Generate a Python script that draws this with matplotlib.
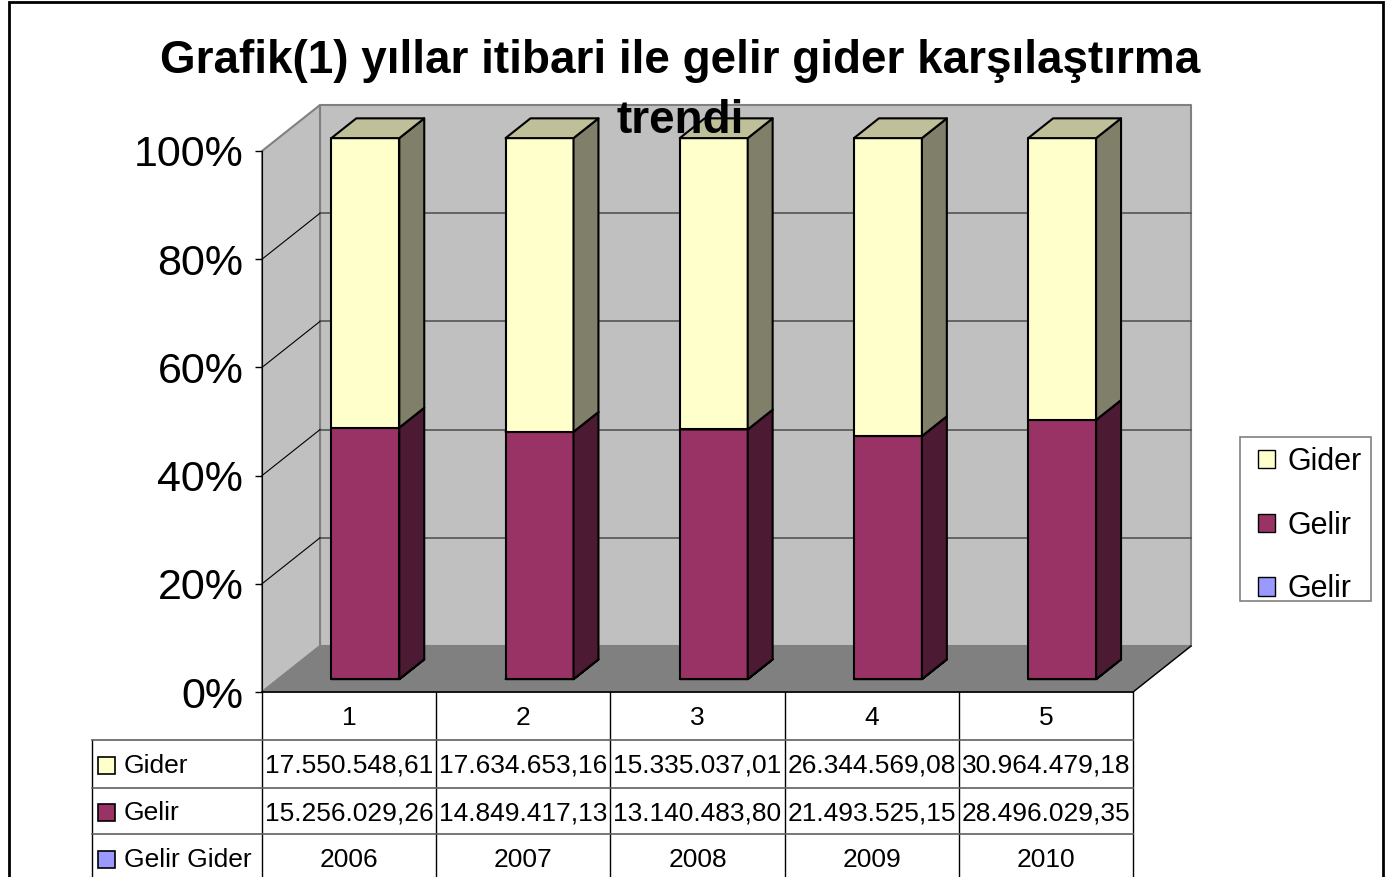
import matplotlib.pyplot as plt
from matplotlib.patches import Polygon, Rectangle, Patch
from matplotlib.lines import Line2D

plt.rcParams['font.family'] = ['Liberation Sans', 'DejaVu Sans']

# Data
categories = ['1', '2', '3', '4', '5']
gider = [17550548.61, 17634653.16, 15335037.01, 26344569.08, 30964479.18]
gelir = [15256029.26, 14849417.13, 13140483.80, 21493525.15, 28496029.35]
gelir_gider = [2006, 2007, 2008, 2009, 2010]
series_names = ['Gelir Gider', 'Gelir', 'Gider']

# colours (front, side, top)
col_gg = ('#9999FF', '#4D4D80', '#7373BF')
col_gelir = ('#993366', '#4D1A33', '#73264D')
col_gider = ('#FFFFCC', '#80806A', '#BFBF99')


def tr_fmt(v, dec=2):
    s = f"{v:,.{dec}f}"
    return s.replace(',', 'X').replace('.', ',').replace('X', '.')


W, H = 1393, 877
fig = plt.figure(figsize=(W / 100, H / 100), dpi=100)

# axes = front plane of the 3D box
ax = fig.add_axes([262 / W, (H - 692) / H, 871 / W, 541 / H])
ax.set_xlim(0.5, 5.5)
ax.set_ylim(0, 100)
ax.patch.set_visible(False)
for s in ['top', 'right', 'bottom']:
    ax.spines[s].set_visible(False)
ax.spines['left'].set_zorder(6)
ax.set_xticks([])
ax.set_yticks([0, 20, 40, 60, 80, 100])
ax.set_yticklabels([f'{v}%' for v in [0, 20, 40, 60, 80, 100]])
ax.tick_params(axis='y', length=5, width=1, pad=8.5, labelsize=31)

# depth vector in data units
DX = 58 / 871 * 5
DY = 46 / 541 * 100
PXY = 100 / 541  # data units per pixel (vertical)


def P(x, y, d):
    return (x + d * DX, y + d * DY)


def poly(pts, fc, ec, lw=1.0, z=1):
    ax.add_patch(Polygon(pts, closed=True, fc=fc, ec=ec, lw=lw, zorder=z,
                         clip_on=False, joinstyle='round'))


# walls and floor
poly([P(0.5, 0, 1), P(5.5, 0, 1), P(5.5, 100, 1), P(0.5, 100, 1)], '#C0C0C0', '#808080', 1.5, 0)
poly([P(0.5, 0, 0), P(0.5, 0, 1), P(0.5, 100, 1), P(0.5, 100, 0)], '#C0C0C0', '#808080', 1.5, 0)
poly([P(0.5, 0, 0), P(5.5, 0, 0), P(5.5, 0, 1), P(0.5, 0, 1)], '#808080', '#808080', 1.0, 0.5)
ax.add_line(Line2D(*zip(P(5.5, 0, 0), P(5.5, 0, 1)), color='black', lw=1, zorder=1, clip_on=False))

# gridlines
for v in [20, 40, 60, 80]:
    a, b = P(0.5, v, 1), P(5.5, v, 1)
    ax.add_line(Line2D([a[0], b[0]], [a[1], b[1]], color='#555555', lw=1.2, zorder=0.8, clip_on=False))
    a, b = P(0.5, v, 0), P(0.5, v, 1)
    ax.add_line(Line2D([a[0], b[0]], [a[1], b[1]], color='black', lw=0.8, zorder=0.8, clip_on=False))

# 100% stacked 3D bars
F0, F1 = 0.28, 0.71
BW = 0.39
for i in range(len(categories)):
    total = gelir_gider[i] + gelir[i] + gider[i]
    vals = [gelir_gider[i] / total * 100, gelir[i] / total * 100, gider[i] / total * 100]
    cols = [col_gg, col_gelir, col_gider]
    xl, xr = i + 1 - BW / 2, i + 1 + BW / 2
    y0 = 0
    for v, (cf, cs, ct) in zip(vals, cols):
        y1 = y0 + v
        poly([P(xl, y0, F0), P(xr, y0, F0), P(xr, y1, F0), P(xl, y1, F0)], cf, 'black', 1.5, 2)
        poly([P(xr, y0, F0), P(xr, y0, F1), P(xr, y1, F1), P(xr, y1, F0)], cs, 'black', 1.5, 2)
        poly([P(xl, y1, F0), P(xr, y1, F0), P(xr, y1, F1), P(xl, y1, F1)], ct, 'black', 1.5, 2)
        y0 = y1

# data table (row edges in pixels below the floor front edge)
row_edges = [0, -48 * PXY, -96 * PXY, -142 * PXY, -190 * PXY]
row_mid = [(row_edges[k] + row_edges[k + 1]) / 2 - 2 * PXY for k in range(4)]
LX = 0.5 - 170 / 174.2
ybot = row_edges[-1]
ax.add_line(Line2D([0.5, 5.5], [0, 0], color='black', lw=1.2, zorder=5, clip_on=False))
for k in range(6):
    ax.add_line(Line2D([0.5 + k, 0.5 + k], [0, ybot], color='black', lw=1, zorder=5, clip_on=False))
ax.add_line(Line2D([LX, LX], [row_edges[1], ybot], color='black', lw=1, zorder=5, clip_on=False))
for r in [1, 2, 3]:
    ax.add_line(Line2D([LX, 5.5], [row_edges[r]] * 2, color='#606060', lw=1.2, zorder=5, clip_on=False))

tfs = 19
for i, c in enumerate(categories):
    ax.text(i + 1, row_mid[0], c, ha='center', va='center', fontsize=tfs)
    ax.text(i + 1, row_mid[1], tr_fmt(gider[i]), ha='center', va='center', fontsize=tfs)
    ax.text(i + 1, row_mid[2], tr_fmt(gelir[i]), ha='center', va='center', fontsize=tfs)
    ax.text(i + 1, row_mid[3], str(gelir_gider[i]), ha='center', va='center', fontsize=tfs)

row_series = [('Gider', col_gider[0]), ('Gelir', col_gelir[0]), ('Gelir Gider', col_gg[0])]
sq_w, sq_h = 17 / 174.2, 17 * PXY
for r, (name, fc) in enumerate(row_series):
    yc = row_mid[r + 1]
    ax.add_patch(Rectangle((LX + 6 / 174.2, yc - sq_h / 2 + 1 * PXY), sq_w, sq_h, fc=fc, ec='black',
                           lw=1.2, zorder=5, clip_on=False))
    ax.text(LX + 32 / 174.2, yc, name, ha='left', va='center', fontsize=tfs)

# legend on the right (frame drawn separately to match the box)
fig.add_artist(Rectangle((1240 / W, 1 - 601 / H), 131 / W, 164 / H, transform=fig.transFigure,
                         fc='white', ec='#808080', lw=1.2))
handles = [Patch(fc=col_gider[0], ec='black'), Patch(fc=col_gelir[0], ec='black'),
           Patch(fc=col_gg[0], ec='black')]
leg = fig.legend(handles, ['Gider', 'Gelir', 'Gelir'], loc='upper left',
                 bbox_to_anchor=(1258 / W, 1 - 447 / H), fontsize=22, frameon=False,
                 handlelength=0.55, handleheight=0.55,
                 labelspacing=1.1, handletextpad=0.4, borderpad=0, borderaxespad=0)

# title
fig.text(680 / W, 1 - 61 / H, 'Grafik(1) yıllar itibari ile gelir gider karşılaştırma',
         ha='center', va='center', fontsize=33, fontweight='bold', zorder=10)
fig.text(680 / W, 1 - 121 / H, 'trendi', ha='center', va='center', fontsize=33,
         fontweight='bold', zorder=10)

# outer frame
fig.add_artist(Rectangle((9 / W, -0.1), (1383 - 9) / W, 1.1 - 2 / H, transform=fig.transFigure,
                         fill=False, ec='black', lw=2))

fig.savefig('out.png', dpi=100)
